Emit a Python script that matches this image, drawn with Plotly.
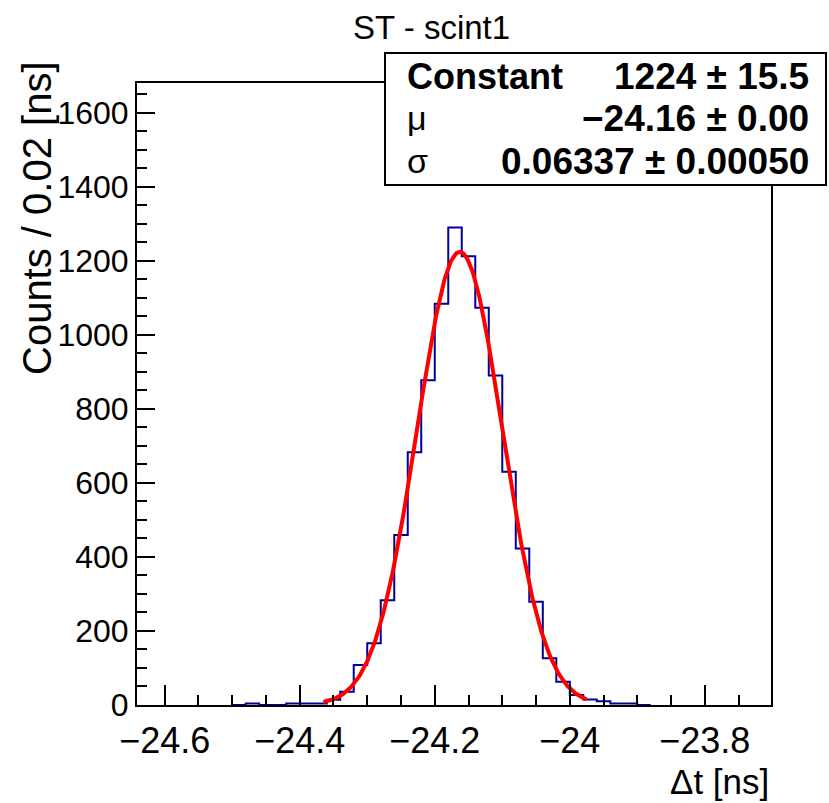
import numpy as np
import plotly.graph_objects as go

# ---- data ----
bin_width = 0.02
bin_left_edges = [-24.50, -24.48, -24.46, -24.44, -24.42, -24.40, -24.38, -24.36, -24.34, -24.32,
                  -24.30, -24.28, -24.26, -24.24, -24.22, -24.20, -24.18, -24.16, -24.14, -24.12,
                  -24.10, -24.08, -24.06, -24.04, -24.02, -24.00, -23.98, -23.96, -23.94, -23.92,
                  -23.90]
counts = [0, 4, 0, 0, 4, 4, 4, 14, 36, 108,
          167, 283, 459, 683, 877, 1084, 1290, 1212, 1073, 890,
          630, 423, 279, 126, 63, 27, 15, 10, 4, 4,
          0]

fit_constant = 1224
fit_mu = -24.163
fit_sigma = 0.06337
fit_range = [-24.365, -23.975]

x_tick_vals = [-24.6, -24.4, -24.2, -24.0, -23.8]
x_tick_text = ["\u221224.6", "\u221224.4", "\u221224.2", "\u221224", "\u221223.8"]
y_tick_vals = [0, 200, 400, 600, 800, 1000, 1200, 1400, 1600]

stats_rows = [("Constant", "1224 \u00b1 15.5"),
              ("\u03bc", "\u221224.16 \u00b1 0.00"),
              ("\u03c3", "0.06337 \u00b1 0.00050")]

# ---- layout geometry (pixels) ----
W, H = 829, 803
L, R, T, B = 137, 58, 83, 98
pw, ph = W - L - R, H - T - B


def px(x):
    return (x - L) / pw


def py(y):
    return (H - B - y) / ph


FONT = "Liberation Sans, Arial, sans-serif"

# histogram outline (step)
hx = list(bin_left_edges) + [bin_left_edges[-1] + bin_width]
hy = list(counts) + [counts[-1]]

fig = go.Figure()
fig.add_trace(go.Scatter(x=hx, y=hy, mode="lines", line_shape="hv",
                         line=dict(color="rgb(0,0,153)", width=2), showlegend=False,
                         hoverinfo="skip"))

xf = np.linspace(fit_range[0], fit_range[1], 400)
yf = fit_constant * np.exp(-0.5 * ((xf - fit_mu) / fit_sigma) ** 2)
fig.add_trace(go.Scatter(x=xf, y=yf, mode="lines",
                         line=dict(color="rgb(255,0,0)", width=4), showlegend=False,
                         hoverinfo="skip"))

fig.update_layout(
    width=W, height=H,
    margin=dict(l=L, r=R, t=T, b=B, pad=0),
    paper_bgcolor="white", plot_bgcolor="white",
    font=dict(family=FONT, color="black"),
    showlegend=False,
)

fig.update_xaxes(range=[-24.641, -23.702], showgrid=False, zeroline=False,
                 showline=True, linecolor="black", linewidth=2, mirror=True,
                 ticks="inside", ticklen=20, tickwidth=2, tickcolor="black",
                 tickvals=x_tick_vals, ticktext=x_tick_text,
                 ticklabelstandoff=3,
                 tickfont=dict(size=36, family=FONT),
                 minor=dict(dtick=0.05, tick0=-24.6, ticks="inside", ticklen=10,
                            tickwidth=2, tickcolor="black"))
fig.update_yaxes(range=[0, 1680], showgrid=False, zeroline=False,
                 showline=True, linecolor="black", linewidth=2, mirror=True,
                 ticks="inside", ticklen=18, tickwidth=2, tickcolor="black",
                 tickvals=y_tick_vals, ticktext=[str(v) for v in y_tick_vals],
                 tickfont=dict(size=32, family=FONT),
                 minor=dict(dtick=50, tick0=0, ticks="inside", ticklen=10,
                            tickwidth=2, tickcolor="black"))

annotations = []
# title
annotations.append(dict(text="ST - scint1", x=px(431), y=py(27), xref="paper", yref="paper",
                        xanchor="center", yanchor="middle", showarrow=False,
                        font=dict(size=33, family=FONT)))
# x axis title
annotations.append(dict(text="\u0394t [ns]", x=px(771), y=py(781), xref="paper", yref="paper",
                        xanchor="right", yanchor="middle", showarrow=False,
                        font=dict(size=35, family=FONT)))
# y axis title
annotations.append(dict(text="Counts / 0.02 [ns]", x=px(37), y=py(218), xref="paper", yref="paper",
                        xanchor="center", yanchor="middle", showarrow=False, textangle=-90,
                        font=dict(size=40, family=FONT)))

# stats box
shapes = [dict(type="rect", xref="paper", yref="paper",
               x0=px(385), x1=px(826), y0=py(185), y1=py(53),
               line=dict(color="black", width=2), fillcolor="white", layer="above")]
row_y = [76, 118, 161]
for (name, val), ry in zip(stats_rows, row_y):
    bold_name = name == "Constant"
    annotations.append(dict(text=("<b>%s</b>" % name) if bold_name else name,
                            x=px(405), y=py(ry), xref="paper", yref="paper",
                            xanchor="left", yanchor="middle", showarrow=False,
                            font=dict(size=36 if bold_name else 34, family=FONT)))
    annotations.append(dict(text="<b>%s</b>" % val,
                            x=px(811), y=py(ry), xref="paper", yref="paper",
                            xanchor="right", yanchor="middle", showarrow=False,
                            font=dict(size=37, family=FONT)))

fig.update_layout(annotations=annotations, shapes=shapes)

fig.write_html("out.html")
